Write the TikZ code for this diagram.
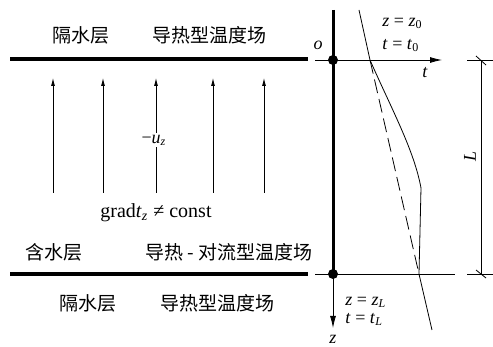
\documentclass[tikz,border=0pt]{standalone}
\usepackage{fontspec}
\setmainfont{Liberation Serif}
\newfontfamily\cjk{Noto Sans CJK SC}
\usetikzlibrary{arrows.meta}

\begin{document}
\begin{tikzpicture}[x=0.5pt, y=-0.5pt, every node/.style={font=\small},
	zone/.style={font=\cjk\fontsize{9.5}{11}\selectfont, inner sep=0pt},
	layer/.style={line width=2pt},
	flow/.style={thin, -{Latex[length=4pt,width=2pt]}},
	axis/.style={thin, -{Latex[length=6pt,width=3pt]}}]
	\useasboundingbox (0,0) rectangle (493,347);
	% layer boundaries and axes
	\coordinate (o) at (333,60);
	\coordinate (zl) at (333,274);
	\coordinate (tw) at (10,59); \coordinate (te) at (308,59);
	\coordinate (bw) at (10,274); \coordinate (be) at (308,274);
	\draw[layer] (tw) -- (te);
	\draw[layer] (bw) -- (be);
	\draw[line width=1.5pt] (333,10) -- (zl);
	\draw[axis] (315,60) -- (442,60);
	\draw[thin] (315,274) -- (455,274);
	\draw[axis] (zl) -- (333,328);
	\fill (o) circle (5);
	\fill (zl) circle (5);
	\node (lo) at (318,45) {\textit{o}};
	\node (lt) at (425,73) {\textit{t}};
	\node[inner sep=0pt] (lz) at (333,339) {\textit{z}};
	\node[anchor=west, inner sep=0pt] (c0) at (382,23) {\textit{z} = \textit{z}\textsubscript{0}};
	\node[anchor=west, inner sep=0pt] (t0) at (382,45) {\textit{t} = \textit{t}\textsubscript{0}};
	\node[anchor=west, inner sep=0pt] (cl) at (345,302) {\textit{z} = \textit{z}\textsubscript{\textit{L}}};
	\node[anchor=west, inner sep=0pt] (tl) at (345,319) {\textit{t} = \textit{t}\textsubscript{\textit{L}}};
	% temperature profiles
	\draw[thin] (359,10) -- (370,60) .. controls (392,110) and (414,150) .. (421,188) -- (419,274) -- (432,330);
	\draw[thin, dash pattern=on 7pt off 3pt] (370,60) -- (419,274);
	% dimension L
	\draw[thin] (467,60) -- (493,60);
	\draw[thin] (467,274) -- (493,274);
	\draw[thin] (481,60) -- (481,274);
	\draw[thin] (476,56) -- (486,65);
	\draw[thin] (476,270) -- (486,278);
	\node[rotate=90] (len) at (470,156) {\textit{L}};
	% upward flow
	\foreach \x [count=\i] in {53,103,156,213,264} {
		\coordinate (s\i) at (\x,193);
		\coordinate (e\i) at (\x,78);
		\draw[flow] (s\i) -- (e\i);
	}
	\node[fill=white, inner sep=1pt] (uz) at (154,140) {−\textit{u}\textsubscript{\textit{z}}};
	\node[font=\normalsize] (grad) at (156,213) {grad\textit{t}\textsubscript{\textit{z}} ≠ const};
	% zone labels
	\node[zone] (top1) at (81,35) {隔水层};
	\node[zone] (top2) at (209,35) {导热型温度场};
	\node[zone] (mid1) at (54,252) {含水层};
	\node[zone] (mid2) at (229,252) {导热 - 对流型温度场};
	\node[zone] (bot1) at (88,303) {隔水层};
	\node[zone] (bot2) at (217,303) {导热型温度场};
\end{tikzpicture}
\end{document}
